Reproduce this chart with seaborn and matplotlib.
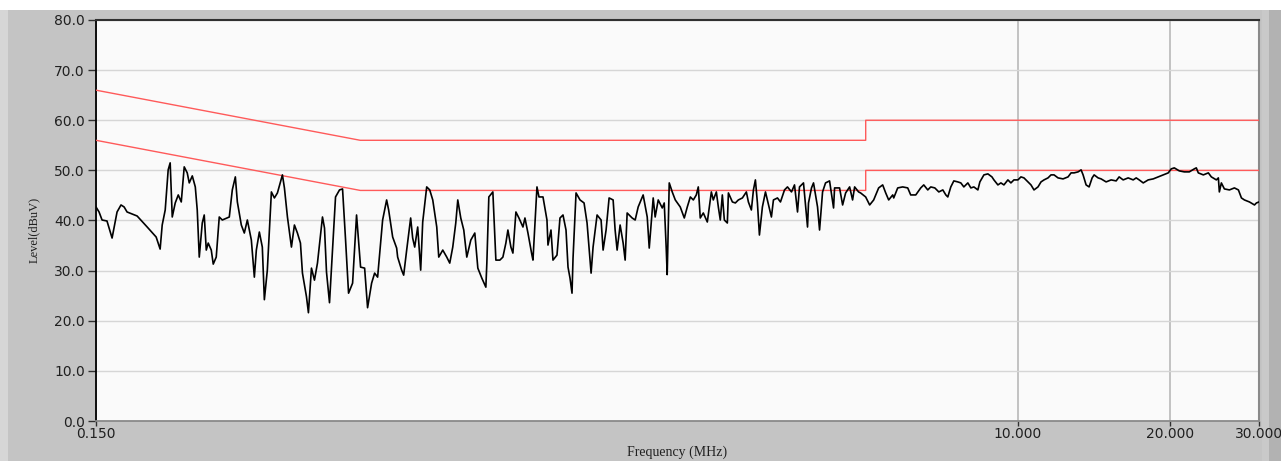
import matplotlib
matplotlib.use("Agg")
import matplotlib.pyplot as plt
import pandas as pd
import seaborn as sns
from matplotlib.patches import Rectangle
from matplotlib.ticker import FixedLocator, FixedFormatter, NullLocator

# ---------------- data ----------------
freq_mhz = [
    0.1500, 0.1521, 0.1542, 0.1577, 0.1614, 0.1651, 0.1681, 0.1705, 0.1728, 0.1809,
    0.1894, 0.1973, 0.2009, 0.2028, 0.2056, 0.2084, 0.2103, 0.2123, 0.2152, 0.2182,
    0.2212, 0.2242, 0.2273, 0.2294, 0.2326, 0.2358, 0.2379, 0.2401, 0.2434, 0.2456,
    0.2479, 0.2501, 0.2536, 0.2559, 0.2594, 0.2630, 0.2667, 0.2753, 0.2791, 0.2830,
    0.2856, 0.2908, 0.2948, 0.2989, 0.3044, 0.3086, 0.3114, 0.3157, 0.3200, 0.3230,
    0.3274, 0.3335, 0.3381, 0.3428, 0.3507, 0.3539, 0.3588, 0.3654, 0.3704, 0.3755,
    0.3807, 0.3842, 0.3913, 0.3948, 0.4003, 0.4058, 0.4114, 0.4209, 0.4248, 0.4287,
    0.4346, 0.4406, 0.4467, 0.4549, 0.4612, 0.4676, 0.4740, 0.4828, 0.4916, 0.5007,
    0.5100, 0.5169, 0.5265, 0.5338, 0.5411,
    0.5536, 0.5638, 0.5690, 0.5795, 0.5901, 0.5928, 0.6037, 0.6093, 0.6177, 0.6290,
    0.6348, 0.6407, 0.6495, 0.6584, 0.6645, 0.6767, 0.6861, 0.6956, 0.7084, 0.7149,
    0.7281, 0.7414, 0.7516, 0.7620, 0.7725, 0.7796, 0.7903, 0.8012, 0.8123, 0.8273,
    0.8425, 0.8542, 0.8699, 0.8860, 0.8900, 0.8981, 0.9147, 0.9274, 0.9444, 0.9575,
    0.9706, 0.9796, 0.9931, 1.0022, 1.0160, 1.0301, 1.0491, 1.0587, 1.0733, 1.0930,
    1.0981, 1.1183, 1.1285, 1.1494, 1.1704, 1.1758, 1.1920, 1.2029, 1.2251, 1.2419,
    1.2591, 1.2765, 1.2882, 1.3000, 1.3119, 1.3180, 1.3362, 1.3607, 1.3859, 1.4050,
    1.4310, 1.4440, 1.4706, 1.4977, 1.5115, 1.5322, 1.5534, 1.5821, 1.5966, 1.6112,
    1.6334, 1.6560, 1.6712, 1.6865, 1.7255, 1.7493, 1.7734,
    1.790, 1.814, 1.848, 1.865, 1.899, 1.916, 1.943, 1.979, 1.997, 2.015,
    2.024, 2.043, 2.071, 2.100, 2.148, 2.188, 2.218, 2.249, 2.280, 2.311,
    2.332, 2.353, 2.386, 2.430, 2.475, 2.497, 2.532, 2.555, 2.578, 2.602,
    2.626, 2.662, 2.675, 2.724, 2.761, 2.799, 2.851, 2.903, 2.930, 2.970,
    2.998, 3.025, 3.053, 3.081, 3.123, 3.167, 3.195, 3.254, 3.284, 3.345,
    3.391, 3.454, 3.501, 3.566, 3.615, 3.665, 3.698, 3.766, 3.836, 3.853,
    3.906, 3.942, 4.015, 4.052, 4.108, 4.164, 4.241, 4.319, 4.339, 4.439,
    4.501, 4.563, 4.647, 4.710, 4.754, 4.841,
    4.885, 4.999, 5.091, 5.185, 5.304, 5.402, 5.477, 5.552, 5.655, 5.681,
    5.785, 5.918, 6.055, 6.138, 6.281, 6.425, 6.514, 6.634, 6.725, 6.850,
    6.976, 7.105, 7.203, 7.268, 7.368, 7.470, 7.607, 7.712, 7.819, 7.963,
    8.073, 8.184, 8.335, 8.411, 8.567, 8.724, 8.886, 8.967, 9.131, 9.257,
    9.385, 9.557, 9.689, 9.823, 10.004, 10.142, 10.282, 10.472, 10.616, 10.763,
    10.961, 11.113, 11.266, 11.473, 11.631, 11.792, 12.009, 12.286, 12.570, 12.743,
    12.920, 13.157, 13.339, 13.461, 13.647, 13.835, 14.027, 14.156, 14.414, 14.613,
    14.950, 15.295, 15.649, 15.864, 16.157, 16.530, 16.912, 17.146, 17.382, 17.704,
    18.110, 18.528, 18.956, 19.394, 19.841, 20.115, 20.394, 20.864, 21.346, 21.838,
    22.341, 22.547, 22.754, 23.279, 23.817, 24.144, 24.704, 24.929, 25.042, 25.273,
    25.623, 26.215, 26.820, 27.314, 27.692, 28.072, 28.72, 29.39, 29.65, 30.0,
]

level_dbuv = [
    42.7, 41.7, 40.1, 39.9, 36.5, 41.7, 43.1, 42.7, 41.7, 40.9,
    38.7, 36.7, 34.3, 39.1, 42.1, 50.1, 51.5, 40.7, 43.5, 45.1,
    43.7, 50.7, 49.5, 47.5, 48.9, 46.7, 42.1, 32.7, 39.5, 41.1,
    34.1, 35.5, 34.1, 31.3, 32.7, 40.7, 40.1, 40.7, 46.1, 48.7,
    43.7, 39.1, 37.5, 40.1, 36.1, 28.7, 34.1, 37.7, 34.7, 24.2,
    30.1, 45.7, 44.5, 45.5, 49.1, 46.5, 40.7, 34.7, 39.1, 37.5,
    35.5, 29.5, 24.8, 21.6, 30.5, 28.1, 31.5, 40.7, 38.5, 29.7,
    23.6, 34.1, 44.7, 46.1, 46.3, 36.1, 25.5, 27.5, 41.1, 30.7,
    30.5, 22.6, 27.5, 29.5, 28.7,
    40.1, 44.1, 42.1, 36.7, 34.5, 32.7, 30.1, 29.1, 34.1, 40.5,
    36.5, 34.7, 38.7, 30.1, 39.7, 46.7, 46.1, 44.1, 38.7, 32.7,
    34.1, 32.7, 31.5, 34.7, 39.5, 44.1, 40.5, 38.1, 32.7, 36.1,
    37.5, 30.5, 28.5, 26.7, 31.5, 44.7, 45.7, 32.1, 32.1, 32.7,
    35.5, 38.1, 34.7, 33.5, 41.7, 40.5, 38.7, 40.5, 37.5, 33.1,
    32.1, 46.7, 44.7, 44.7, 40.1, 35.1, 38.1, 32.1, 33.1, 40.5,
    41.1, 38.1, 30.7, 28.5, 25.5, 32.5, 45.5, 44.1, 43.5, 39.5,
    29.5, 34.7, 41.1, 40.1, 34.1, 38.1, 44.5, 44.1, 38.1, 34.1,
    39.1, 35.5, 32.1, 41.5, 40.5, 40.1, 42.7,
    43.7, 45.1, 40.7, 34.5, 44.5, 40.7, 44.1, 42.5, 43.5, 34.5,
    29.2, 47.5, 45.7, 44.1, 42.7, 40.5, 42.7, 44.7, 44.1, 45.1,
    46.7, 40.5, 41.5, 39.7, 45.7, 44.1, 45.7, 42.7, 40.1, 45.1,
    40.1, 39.5, 45.5, 43.7, 43.5, 44.1, 44.5, 45.7, 43.7, 42.1,
    46.1, 48.1, 43.5, 37.1, 42.7, 45.7, 44.1, 40.7, 44.1, 44.5,
    43.7, 46.1, 46.7, 45.7, 47.1, 41.7, 46.7, 47.5, 38.7, 43.5,
    46.5, 47.5, 42.7, 38.1, 45.7, 47.5, 47.9, 42.5, 46.5, 46.5,
    43.1, 45.5, 46.7, 44.1, 46.7, 45.7,
    45.5, 44.7, 43.1, 44.1, 46.5, 47.1, 45.5, 44.1, 45.1, 44.5,
    46.5, 46.7, 46.5, 45.1, 45.1, 46.5, 47.1, 46.1, 46.7, 46.5,
    45.7, 46.1, 45.1, 44.7, 46.7, 47.9, 47.7, 47.5, 46.7, 47.5,
    46.5, 46.7, 46.1, 47.7, 49.1, 49.3, 48.7, 48.1, 47.1, 47.5,
    47.1, 48.1, 47.5, 48.1, 48.1, 48.7, 48.5, 47.7, 47.1, 46.1,
    46.7, 47.7, 48.1, 48.5, 49.1, 49.1, 48.5, 48.3, 48.7, 49.5,
    49.5, 49.7, 50.1, 49.1, 47.1, 46.7, 48.5, 49.1, 48.5, 48.3,
    47.7, 48.1, 47.9, 48.7, 48.1, 48.5, 48.1, 48.5, 48.1, 47.5,
    48.1, 48.3, 48.7, 49.1, 49.5, 50.3, 50.5, 49.9, 49.7, 49.7,
    50.3, 50.5, 49.5, 49.1, 49.5, 48.7, 48.1, 48.5, 45.7, 47.5,
    46.3, 46.1, 46.5, 46.1, 44.5, 44.1, 43.7, 43.1, 43.5, 43.7,
]

limit_freq = [0.15, 0.5, 5.0, 5.0, 30.0]
qp_limit = [66.0, 56.0, 56.0, 60.0, 60.0]
av_limit = [56.0, 46.0, 46.0, 50.0, 50.0]

y_ticks = [0, 10, 20, 30, 40, 50, 60, 70, 80]
y_tick_labels = ["0.0", "10.0", "20.0", "30.0", "40.0", "50.0", "60.0", "70.0", "80.0"]
x_ticks = [0.15, 10.0, 20.0, 30.0]
x_tick_labels = ["0.150", "10.000", "20.000", "30.000"]

trace_df = pd.DataFrame({"freq": freq_mhz, "level": level_dbuv})
qp_df = pd.DataFrame({"freq": limit_freq, "level": qp_limit})
av_df = pd.DataFrame({"freq": limit_freq, "level": av_limit})

# ---------------- style ----------------
sns.set_theme(style="white")
plt.rcParams["font.family"] = ["DejaVu Sans"]

W, H = 1281, 461
fig = plt.figure(figsize=(W / 100, H / 100), dpi=100, facecolor="#c4c4c4")

# window-like frame bands
fig.patches.append(Rectangle((0, 1 - 10 / H), 1, 10 / H, transform=fig.transFigure,
                             facecolor="#ffffff", edgecolor="none", zorder=-5))
fig.patches.append(Rectangle((0, 0), 8 / W, 1 - 10 / H, transform=fig.transFigure,
                             facecolor="#d6d6d6", edgecolor="none", zorder=-5))
fig.patches.append(Rectangle((1262 / W, 0), 7 / W, 1 - 10 / H, transform=fig.transFigure,
                             facecolor="#c9c9c9", edgecolor="none", zorder=-5))
fig.patches.append(Rectangle((1269 / W, 0), 12 / W, 1 - 10 / H, transform=fig.transFigure,
                             facecolor="#b2b2b2", edgecolor="none", zorder=-5))

ax = fig.add_axes([96 / W, 40 / H, 1163 / W, 401 / H])
ax.set_facecolor("#fafafa")

sns.lineplot(data=qp_df, x="freq", y="level", ax=ax, color="#ff5a5a", linewidth=1.0,
             estimator=None, sort=False, zorder=3)
sns.lineplot(data=av_df, x="freq", y="level", ax=ax, color="#ff5a5a", linewidth=1.0,
             estimator=None, sort=False, zorder=3)
sns.lineplot(data=trace_df, x="freq", y="level", ax=ax, color="#000000", linewidth=1.2,
             estimator=None, sort=False, zorder=4)

ax.set_xscale("log")
ax.set_xlim(0.15, 30.0)
ax.set_ylim(0, 80)

ax.xaxis.set_major_locator(FixedLocator(x_ticks))
ax.xaxis.set_major_formatter(FixedFormatter(x_tick_labels))
ax.xaxis.set_minor_locator(NullLocator())
ax.yaxis.set_major_locator(FixedLocator(y_ticks))
ax.yaxis.set_major_formatter(FixedFormatter(y_tick_labels))

ax.yaxis.grid(True, color="#d6d6d6", linewidth=1.0)
ax.xaxis.grid(True, color="#bebebe", linewidth=1.3)
ax.set_axisbelow(True)

ax.tick_params(axis="y", direction="out", length=6, width=1, color="#303030",
               pad=2, labelsize=10, labelcolor="#202020", left=True)
ax.tick_params(axis="x", direction="out", length=3.5, width=1, color="#303030",
               pad=1, labelsize=10, labelcolor="#202020", bottom=True)

ax.spines["left"].set_color("#000000")
ax.spines["left"].set_linewidth(1.3)
ax.spines["top"].set_color("#303030")
ax.spines["top"].set_linewidth(1.5)
ax.spines["right"].set_color("#8a8a8a")
ax.spines["right"].set_linewidth(1.5)
ax.spines["bottom"].set_color("#8a8a8a")
ax.spines["bottom"].set_linewidth(1.3)

ax.set_xlabel("")
ax.set_ylabel("")
fig.text(677 / W, 1 - 452 / H, "Frequency (MHz)", ha="center", va="center",
         fontsize=10, family=["Liberation Serif", "DejaVu Serif"], color="#202020")
fig.text(34 / W, 1 - 230 / H, "Level(dBuV)", ha="center", va="center", rotation=90,
         fontsize=9, family=["Liberation Serif", "DejaVu Serif"], color="#202020")

fig.savefig("out.png", dpi=100, facecolor=fig.get_facecolor())
